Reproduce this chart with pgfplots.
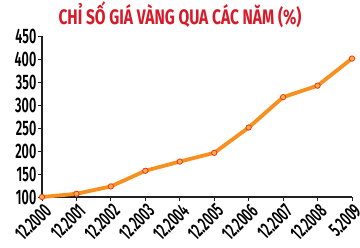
\documentclass[border=0pt]{standalone}
\usepackage{fontspec}
\setmainfont{Fira Sans}[FakeStretch=0.6,UprightFont=* SemiBold]
\newfontfamily\titlefont{Fira Sans}[FakeStretch=0.74,UprightFont=* Bold]
\usepackage{pgfplots}
\pgfplotsset{compat=1.18}
\definecolor{titlered}{HTML}{D71A28}
\definecolor{lineorange}{HTML}{F7901E}
\definecolor{markred}{HTML}{EE3524}
\definecolor{markfill}{HTML}{FBB040}
\definecolor{axisgray}{HTML}{231F20}
\begin{document}
\begin{tikzpicture}
\useasboundingbox (0,0) rectangle (360bp,248bp);
\node[anchor=base, text=titlered, font=\titlefont\fontsize{21bp}{22bp}\selectfont] at (180bp,223bp) {CHỈ SỐ GIÁ VÀNG QUA CÁC NĂM (\%)};
\begin{axis}[
  at={(42bp,51bp)}, anchor=origin,
  scale only axis,
  width=310bp, height=161bp,
  xmin=0, xmax=9, ymin=100, ymax=450,
  axis x line=bottom, axis y line=left,
  axis line style={-, line width=1.3pt, axisgray},
  tick style={line width=1pt, axisgray},
  xtick={0,...,9},
  xticklabels={12.2000,12.2001,12.2002,12.2003,12.2004,12.2005,12.2006,12.2007,12.2008,5.2009},
  ytick={100,150,...,450},
  tick align=outside,
  major tick length=4bp,
  x tick label style={rotate=45, anchor=north east, inner sep=0.5pt, yshift=-1pt, font=\fontsize{20bp}{20bp}\selectfont},
  y tick label style={inner sep=1.5pt, font=\fontsize{21bp}{21bp}\selectfont},
  /pgf/number format/assume math mode=true,
  clip=false,
]
\addplot[lineorange, line width=3.8pt, mark=*, mark size=2.7pt,
  mark options={fill=markfill, draw=markred, line width=0.8pt}]
  coordinates {(0,100) (1,107) (2,123) (3,157) (4,177) (5,196) (6,251) (7,317) (8,342) (9,401)};
\end{axis}
\end{tikzpicture}
\end{document}
